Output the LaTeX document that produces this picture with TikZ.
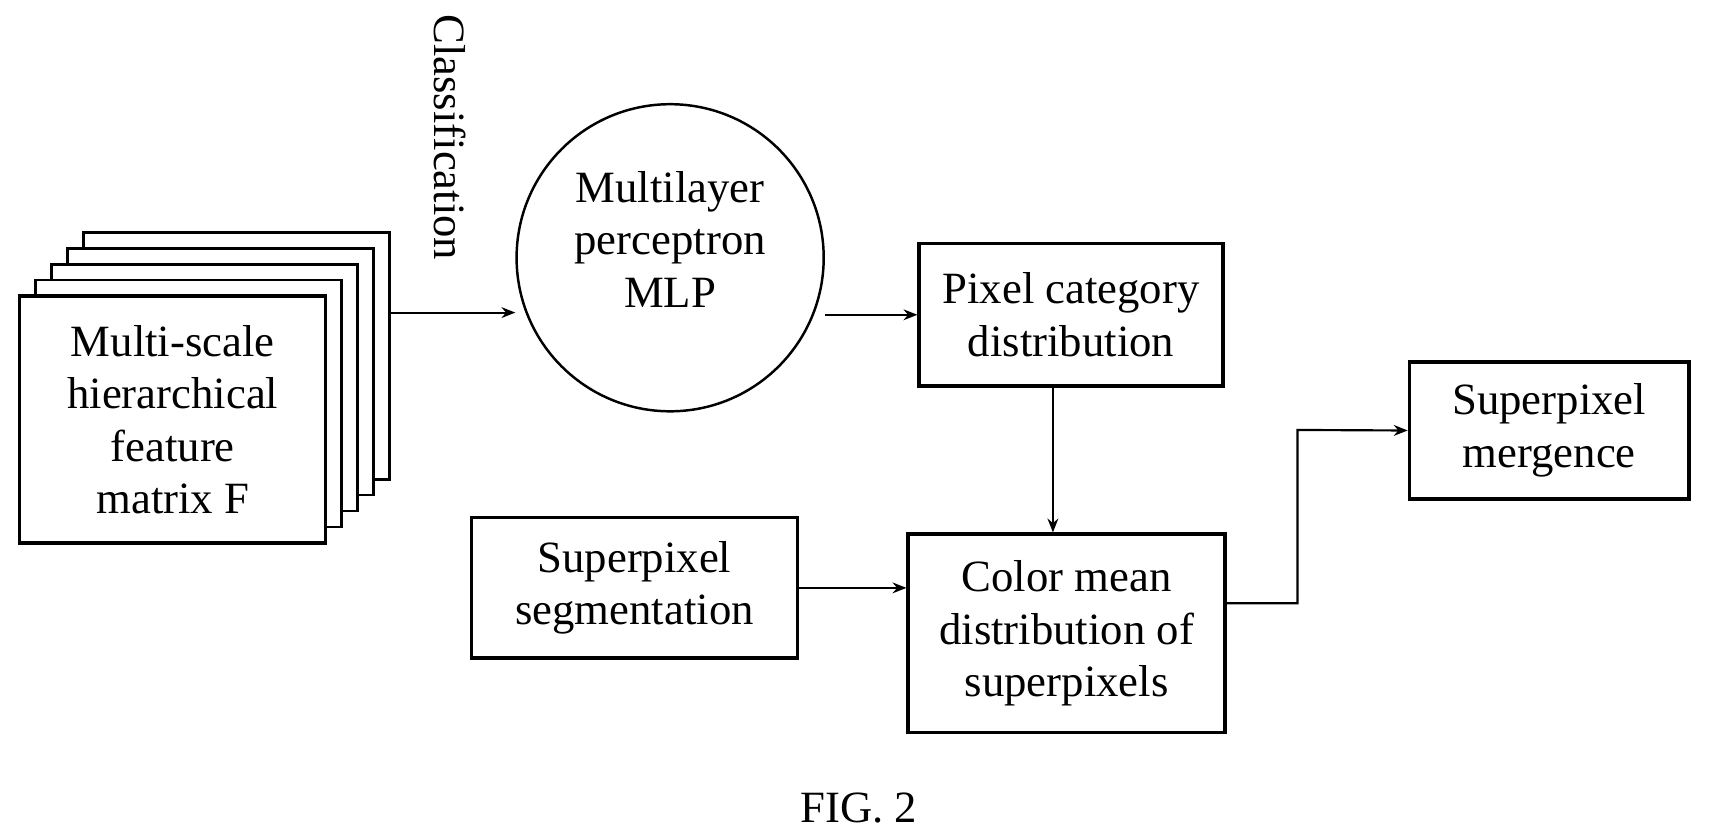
\documentclass[tikz,border=0pt]{standalone}
\usepackage{fontspec}
\setmainfont{Liberation Serif}
\usetikzlibrary{positioning,arrows.meta,calc}

\begin{document}
\begin{tikzpicture}[
  x=0.25mm, y=-0.25mm,
  >={Stealth[length=9pt,width=7pt]},
  font=\fontsize{29}{34}\selectfont,
  line width=1.6pt,
  box/.style={
     draw,
     fill=white,
     line width=2.2pt,
     inner sep=0pt,
     align=center
  },
  flow/.style={->, line width=1.4pt}
]
\useasboundingbox (0,0) rectangle (1560,764);

% stacked feature matrices
\foreach \k in {4,3,2,1}
  \draw[line width=1.6pt, fill=white]
    ({18+14.5*\k},{270-14.5*\k}) rectangle ({297+14.5*\k},{495-14.5*\k});
\node[box, minimum width=69.75mm, minimum height=56.25mm] (feat) at (157.5,382.5)
  {Multi-scale\\hierarchical\\feature\\matrix F};
\coordinate (stack) at (355,285);

\node[draw, circle, line width=1.6pt, minimum size=70mm, inner sep=0pt] (mlp) at (611,235) {};
\node[align=center] at (611,218) {Multilayer\\perceptron\\MLP};

\node[rotate=-90, anchor=west, inner sep=0pt] (cls) at (410,12) {Classification};

\node[box, minimum width=69.25mm, minimum height=32.5mm] (pix)   at (976.5,287)  {Pixel category\\distribution};
\node[box, minimum width=74.25mm, minimum height=32mm]   (seg)   at (578.5,536)  {Superpixel\\segmentation};
\node[box, minimum width=72.25mm, minimum height=45.25mm] (color) at (972.5,577.5) {Color mean\\distribution of\\superpixels};
\node[box, minimum width=63.75mm, minimum height=31.25mm] (merge) at (1412.5,392.5) {Superpixel\\mergence};

\node (fig) at (783,737) {FIG. 2};

\draw[flow] (stack) -- (mlp.west |- stack);
\draw[flow] (mlp.east |- pix.west) -- (pix.west);
\draw[flow] (pix.south -| 960,0) -- (color.north -| 960,0);
\draw[flow] (seg.east) -- (seg.east -| color.west);
\draw[flow] (color.east |- 0,550) -| (1183,392) -- (merge.west);
\end{tikzpicture}
\end{document}
